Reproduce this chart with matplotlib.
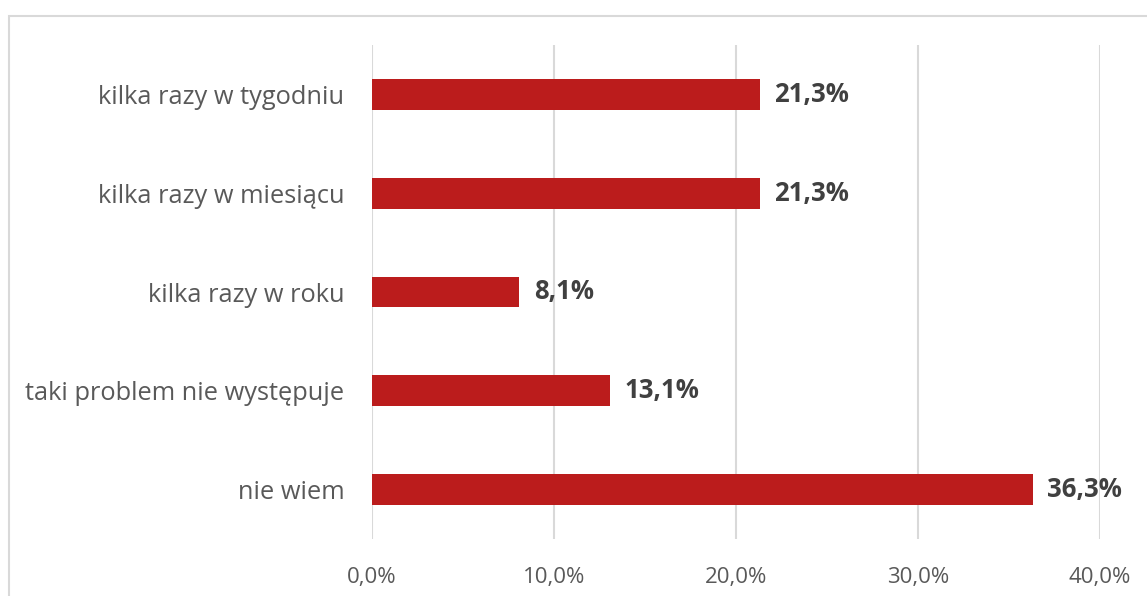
import matplotlib.pyplot as plt
from matplotlib.patches import Rectangle
from matplotlib.ticker import FuncFormatter

# odpowiedzi i udziały procentowe
kategorie = ["kilka razy w tygodniu", "kilka razy w miesiącu", "kilka razy w roku",
             "taki problem nie występuje", "nie wiem"]
wartosci = [21.3, 21.3, 8.1, 13.1, 36.3]
osie_x = [0, 10, 20, 30, 40]

plt.rcParams['font.family'] = ['Open Sans', 'DejaVu Sans']

fig = plt.figure(figsize=(11.47, 5.96), dpi=100)
ax = fig.add_axes([372 / 1147, 1 - 539 / 596, (1100 - 372) / 1147, (539 - 45) / 596])

# ramka wykresu
fig.patches.append(Rectangle((9 / 1147, -0.1), 1.2, 1 - 16 / 596 + 0.1,
                             transform=fig.transFigure, fill=False,
                             edgecolor='#d9d9d9', linewidth=1.5))

y = list(range(len(kategorie)))
ax.barh(y, wartosci, height=0.31, color='#BB1C1C', zorder=3)
for yi, v in zip(y, wartosci):
    ax.text(v + 0.8, yi, f"{v:.1f}%".replace('.', ','), va='center', ha='left',
            fontsize=18.5, fontweight='bold', color='#404040', zorder=4)

ax.set_ylim(len(kategorie) - 0.5, -0.5)
ax.set_xlim(0, 40)
ax.set_yticks(y)
ax.set_yticklabels(kategorie, fontsize=18.3, color='#595959')
ax.set_xticks(osie_x)
ax.xaxis.set_major_formatter(FuncFormatter(lambda v, p: f"{v:.1f}%".replace('.', ',')))
ax.tick_params(axis='x', labelsize=16, labelcolor='#595959', length=0, pad=20)
ax.tick_params(axis='y', length=0, pad=20)
ax.grid(axis='x', color='#d9d9d9', linewidth=1.5, zorder=0)
for s in ax.spines.values():
    s.set_visible(False)

fig.savefig('out.png', dpi=100)
